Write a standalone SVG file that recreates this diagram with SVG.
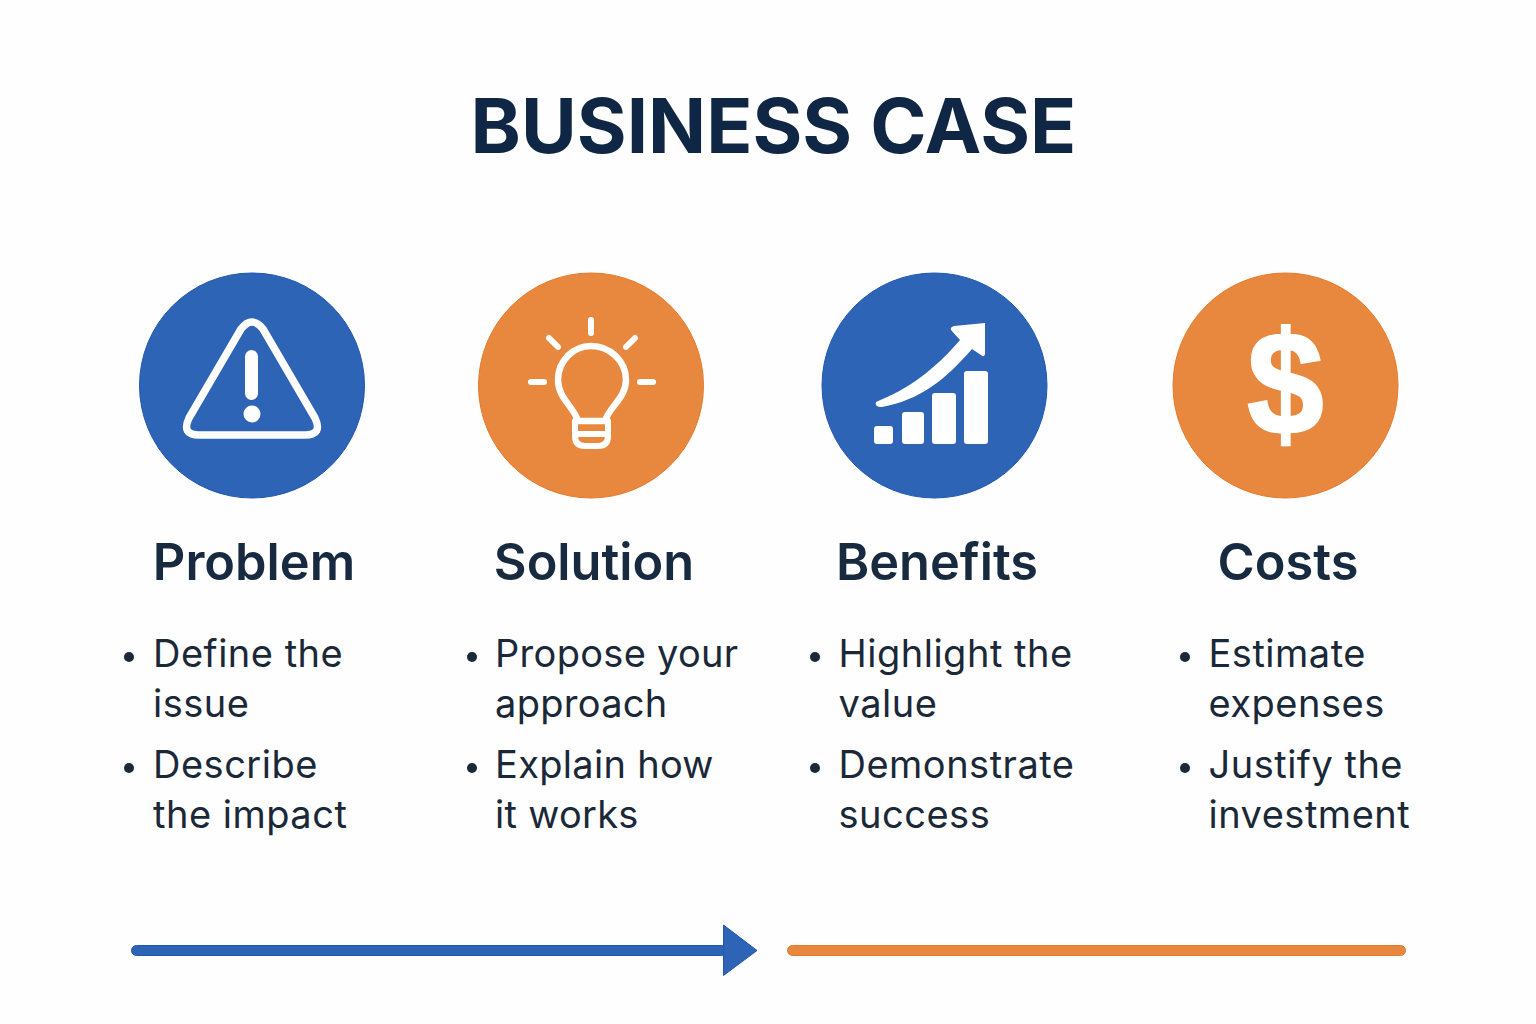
<svg xmlns="http://www.w3.org/2000/svg" width="1536" height="1024" viewBox="0 0 1536 1024">
<style>
text{font-family:"Inter","Liberation Sans",sans-serif}
.title{font-size:76.2px;font-weight:700;fill:#0f2744;text-anchor:middle}
.head{font-size:50.500px;font-weight:600;fill:#182a3f;text-anchor:middle}
.body{font-size:38px;font-weight:400;fill:#1a2838;letter-spacing:.5px}
#solution .body{letter-spacing:.3px}
.blue{fill:#2d64b6;stroke:#1f58b0;stroke-width:1}
.orange{fill:#e8883e;stroke:#e67a2a;stroke-width:1}
.ico{fill:none;stroke:#fff;stroke-linecap:round;stroke-linejoin:round}
.w{fill:#fff}
.dot{fill:#1a2838}
</style>
<rect width="1536" height="1024" fill="#fefefe"/>
<text class="title" x="773.500" y="152.500">BUSINESS CASE</text>
<g id="problem">
<circle class="blue" cx="252" cy="385.500" r="112.500"/>
<path class="ico" stroke-width="7.500" d="M241 329 Q252 315 263 329 L315 418 Q323 435 305 435 L199 435 Q181 435 189 418 Z"/>
<rect class="w" x="245" y="350" width="13" height="50" rx="6.500"/>
<circle class="w" cx="252" cy="414" r="8.500"/>
<text class="head" x="254" y="579.500">Problem</text>
<circle class="dot" cx="129" cy="657" r="5"/><circle class="dot" cx="129" cy="768" r="5"/>
<text class="body" x="153" y="667">Define the</text>
<text class="body" x="153" y="717">issue</text>
<text class="body" x="153" y="778">Describe</text>
<text class="body" x="153" y="828">the impact</text>
</g>
<g id="solution">
<circle class="orange" cx="591" cy="385.500" r="112.500"/>
<path class="ico" stroke-width="6.500" d="M578 421 C574 407 558 398 558 380 C558 361 573 346 591 346 C610 346 626 361 626 380 C626 398 609 407 605 421 Z"/>
<path class="ico" stroke-width="6" d="M575 421 H608 V436 Q608 446 598 446 H585 Q575 446 575 436 Z M575 434 H608"/>
<path class="ico" stroke-width="6" d="M591 320 V333 M549 338 L558 347 M635 338 L626 347 M531 382 H544 M640 382 H653"/>
<text class="head" x="594" y="579.500">Solution</text>
<circle class="dot" cx="472" cy="657" r="5"/><circle class="dot" cx="472" cy="768" r="5"/>
<text class="body" x="495" y="667">Propose your</text>
<text class="body" x="495" y="717">approach</text>
<text class="body" x="495" y="778">Explain how</text>
<text class="body" x="495" y="828">it works</text>
</g>
<g id="benefits">
<circle class="blue" cx="934.500" cy="385.500" r="112.500"/>
<path class="w" d="M876 402 C910 388 934 370 960 340 L951 330 Q950 327 954 326 L985 323 V354 Q984 358 981 355 L972 349 C945 380 920 400 882 407 Q874 407 876 402 Z"/>
<rect class="w" x="874" y="426" width="19" height="18" rx="3"/>
<rect class="w" x="902" y="412" width="22" height="32" rx="3"/>
<rect class="w" x="932" y="393" width="24" height="51" rx="3"/>
<rect class="w" x="964" y="371" width="24" height="73" rx="3"/>
<text class="head" x="937" y="579.500">Benefits</text>
<circle class="dot" cx="815" cy="657" r="5"/><circle class="dot" cx="815" cy="768" r="5"/>
<text class="body" x="838.500" y="667">Highlight the</text>
<text class="body" x="838.500" y="717">value</text>
<text class="body" x="838.500" y="778">Demonstrate</text>
<text class="body" x="838.500" y="828">success</text>
</g>
<g id="costs">
<circle class="orange" cx="1285.500" cy="385.500" r="112.500"/>
<text transform="translate(1285.500 434) scale(.94 1)" text-anchor="middle" fill="#fff" stroke="#fff" stroke-width="2.500" font-size="146" font-weight="700" style="font-family:'Liberation Sans',sans-serif">$</text>
<text class="head" x="1288" y="579.500">Costs</text>
<circle class="dot" cx="1185" cy="657" r="5"/><circle class="dot" cx="1185" cy="768" r="5"/>
<text class="body" x="1208.500" y="667">Estimate</text>
<text class="body" x="1208.500" y="717">expenses</text>
<text class="body" x="1208.500" y="778">Justify the</text>
<text class="body" x="1208.500" y="828">investment</text>
</g>
<g id="connectors">
<rect x="131.500" y="945.500" width="595" height="10" rx="5" fill="#2d64b6" stroke="#1f58b0"/>
<path d="M723.500 925 L757 950.500 L723.500 975.500 Z" fill="#2d64b6" stroke="#1f58b0"/>
<rect x="787.500" y="945.500" width="618" height="10" rx="5" fill="#e8883e" stroke="#e67a2a"/>
</g>
</svg>
